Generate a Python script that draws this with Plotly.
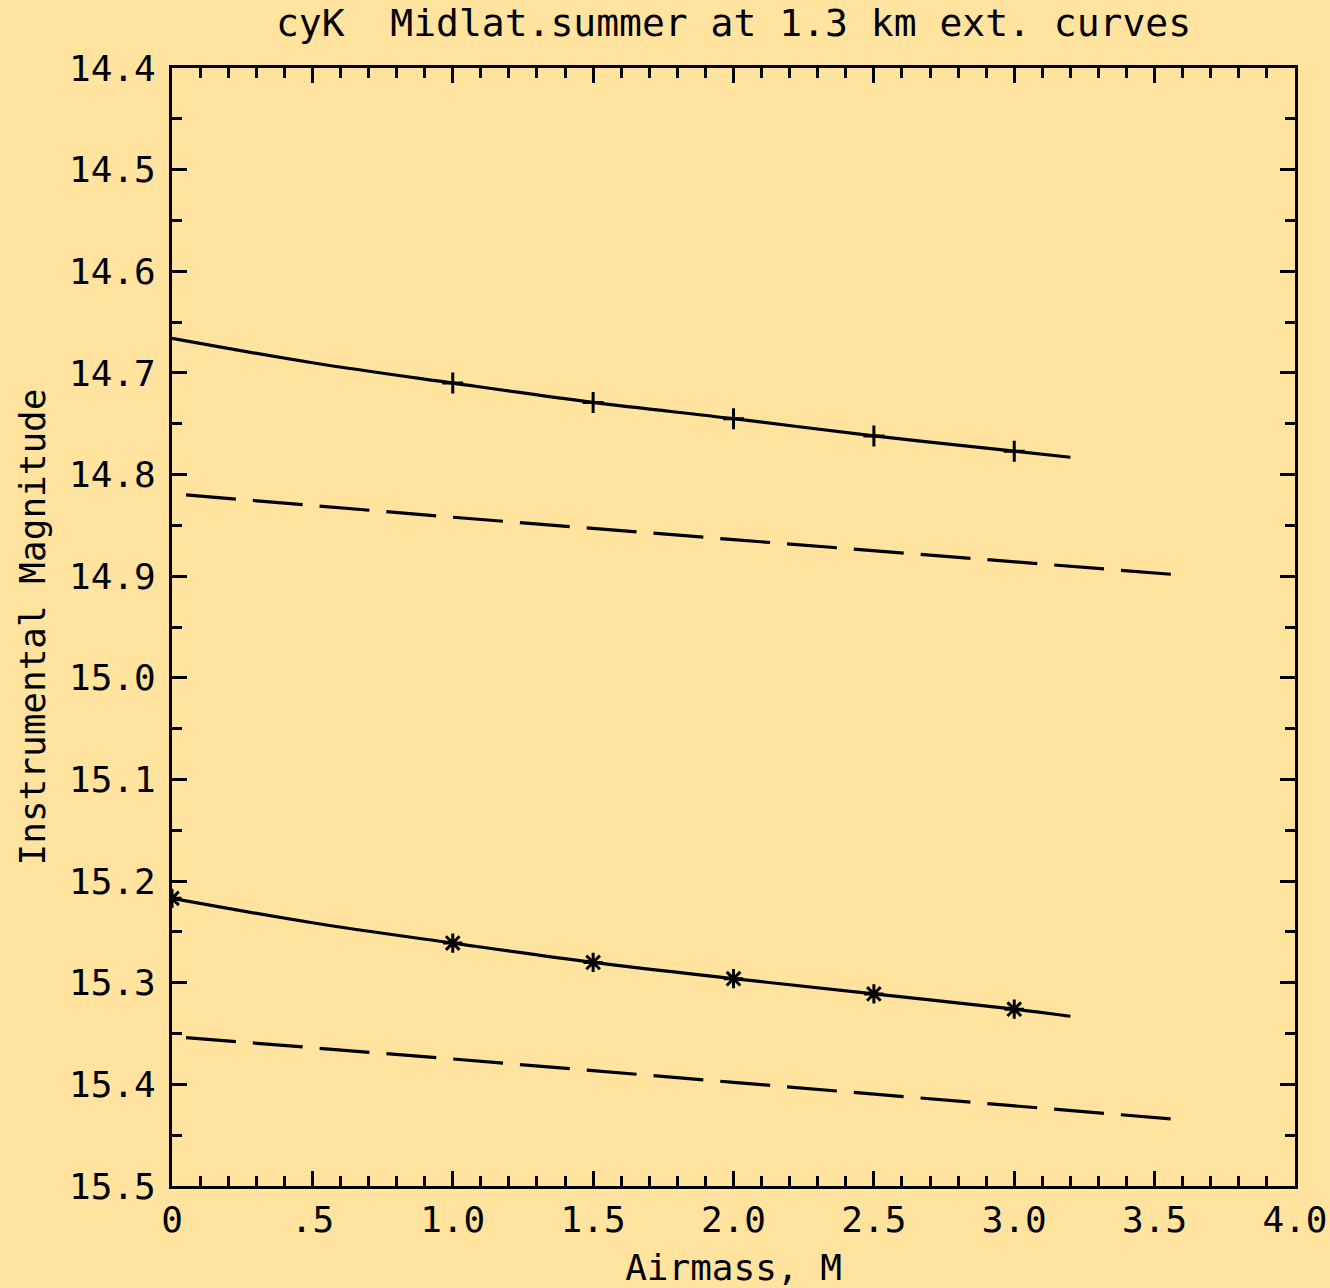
import plotly.graph_objects as go

BG = "#FFE39E"
FONT = "DejaVu Sans Mono"

# Upper solid curve (+ markers)
upper_x = [0.0, 0.5, 1.0, 1.5, 2.0, 2.5, 3.0, 3.2]
upper_y = [14.666, 14.690, 14.710, 14.729, 14.745, 14.762, 14.777, 14.783]
upper_mx = [1.0, 1.5, 2.0, 2.5, 3.0]
upper_my = [14.710, 14.729, 14.745, 14.762, 14.777]

# Upper dashed curve
upd_x = [0.05, 1.0, 2.0, 3.0, 3.6]
upd_y = [14.820, 14.842, 14.864, 14.886, 14.899]

# Lower solid curve (* markers)
lower_x = [0.0, 0.5, 1.0, 1.5, 2.0, 2.5, 3.0, 3.2]
lower_y = [15.217, 15.241, 15.261, 15.280, 15.296, 15.311, 15.326, 15.333]
lower_mx = [0.0, 1.0, 1.5, 2.0, 2.5, 3.0]
lower_my = [15.217, 15.261, 15.280, 15.296, 15.311, 15.326]

# Lower dashed curve
lod_x = [0.05, 1.0, 2.0, 3.0, 3.6]
lod_y = [15.354, 15.375, 15.398, 15.421, 15.435]

x_tickvals = [0, 0.5, 1.0, 1.5, 2.0, 2.5, 3.0, 3.5, 4.0]
x_ticktext = ["0", ".5", "1.0", "1.5", "2.0", "2.5", "3.0", "3.5", "4.0"]
y_tickvals = [14.4, 14.5, 14.6, 14.7, 14.8, 14.9, 15.0, 15.1, 15.2, 15.3, 15.4, 15.5]
y_ticktext = ["%.1f" % v for v in y_tickvals]

fig = go.Figure()
line = dict(color="black", width=3.2)
fig.add_trace(go.Scatter(x=upper_x, y=upper_y, mode="lines", line=dict(line, shape="spline")))
fig.add_trace(go.Scatter(x=upd_x, y=upd_y, mode="lines", line=dict(color="black", width=3.2, dash="50px,17px")))
fig.add_trace(go.Scatter(x=lower_x, y=lower_y, mode="lines", line=dict(line, shape="spline")))
fig.add_trace(go.Scatter(x=lod_x, y=lod_y, mode="lines", line=dict(color="black", width=3.2, dash="50px,17px")))
fig.add_trace(go.Scatter(x=upper_mx, y=upper_my, mode="markers",
                         marker=dict(symbol="cross-thin", size=15, line=dict(color="black", width=3))))
fig.add_trace(go.Scatter(x=lower_mx, y=lower_my, mode="markers",
                         marker=dict(symbol="asterisk", size=16, line=dict(color="black", width=3))))

axis_common = dict(showgrid=False, zeroline=False, showline=True, linecolor="black", linewidth=3,
                   mirror="allticks", ticks="inside", tickcolor="black", tickwidth=3, ticklen=15,
                   automargin=False, ticklabeloverflow="allow",
                   tickfont=dict(family=FONT, size=36, color="black"))

fig.update_xaxes(range=[0, 4.0], tickvals=x_tickvals, ticktext=x_ticktext, ticklabelstandoff=0,
                 minor=dict(dtick=0.1, ticks="inside", ticklen=10, tickwidth=3, tickcolor="black"),
                 title=dict(text="Airmass, M", font=dict(family=FONT, size=36, color="black"), standoff=26),
                 **axis_common)
fig.update_yaxes(range=[15.5, 14.4], tickvals=y_tickvals, ticktext=y_ticktext, ticklabelstandoff=6,
                 minor=dict(dtick=0.05, ticks="inside", ticklen=10, tickwidth=3, tickcolor="black"),
                 title=dict(text="Instrumental Magnitude", font=dict(family=FONT, size=36, color="black"), standoff=13),
                 **axis_common)

fig.update_layout(
    width=1330, height=1288,
    margin=dict(l=172, r=35, t=68, b=102),
    paper_bgcolor=BG, plot_bgcolor=BG,
    showlegend=False,
    title=dict(text="cyK  Midlat.summer at 1.3 km ext. curves", xref="paper", x=0.5, xanchor="center",
               y=1 - 23 / 1288, yanchor="middle",
               font=dict(family=FONT, size=38, color="black")),
)

fig.write_html("out.html")
